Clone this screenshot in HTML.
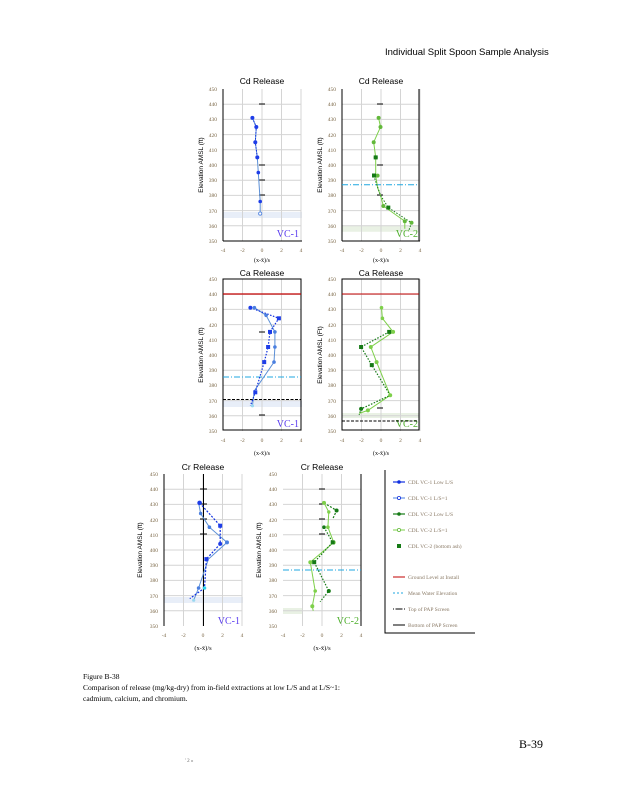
<!DOCTYPE html>
<html><head><style>
body{margin:0;background:#fff;}
svg{display:block;font-family:"Liberation Serif",serif;}
.s{font-family:"Liberation Sans",sans-serif;}
.tk{font-size:5.5px;fill:#7a6645;}
.g line{stroke:#d4d4d4;stroke-width:1;}
</style></head><body>
<svg width="618" height="800" viewBox="0 0 618 800" xmlns="http://www.w3.org/2000/svg">
<defs>
<g id="grid" class="g">
<line x1="0" y1="15.2" x2="78" y2="15.2"/><line x1="0" y1="30.4" x2="78" y2="30.4"/><line x1="0" y1="45.6" x2="78" y2="45.6"/><line x1="0" y1="60.8" x2="78" y2="60.8"/><line x1="0" y1="76" x2="78" y2="76"/><line x1="0" y1="91.2" x2="78" y2="91.2"/><line x1="0" y1="106.4" x2="78" y2="106.4"/><line x1="0" y1="121.6" x2="78" y2="121.6"/><line x1="0" y1="136.8" x2="78" y2="136.8"/>
<line x1="19.5" y1="0" x2="19.5" y2="152"/><line x1="39" y1="0" x2="39" y2="152"/><line x1="58.5" y1="0" x2="58.5" y2="152"/><line x1="78" y1="0" x2="78" y2="152"/>
</g>
</defs>

<text x="385" y="55" class="s" font-size="9.5">Individual Split Spoon Sample Analysis</text>

<!-- ===== Plot frames ===== -->
<!-- TL -->
<g transform="translate(223,89)">
<rect x="0" y="123" width="79" height="6" fill="#e8eef8"/>
<use href="#grid"/>
<line x1="0" y1="0" x2="0" y2="152" stroke="#000"/><line x1="0" y1="152" x2="79" y2="152" stroke="#000"/>
<g class="tk" text-anchor="end"><text x="-6" y="2">450</text><text x="-6" y="17">440</text><text x="-6" y="32">430</text><text x="-6" y="48">420</text><text x="-6" y="63">410</text><text x="-6" y="78">400</text><text x="-6" y="93">390</text><text x="-6" y="108">380</text><text x="-6" y="124">370</text><text x="-6" y="139">360</text><text x="-6" y="154">350</text></g>
<g class="tk" text-anchor="middle"><text x="0" y="163">-4</text><text x="19.5" y="163">-2</text><text x="39" y="163">0</text><text x="58.5" y="163">2</text><text x="78" y="163">4</text></g>
<text x="39" y="-5" text-anchor="middle" class="s" font-size="8.5">Cd Release</text>
<text x="39" y="173" text-anchor="middle" font-size="6">(x-x̄)/s</text>
<text transform="translate(-20,76) rotate(-90)" text-anchor="middle" class="s" font-size="6.5">Elevation AMSL (ft)</text>
<text x="76" y="148" text-anchor="end" font-size="10" fill="#5a3cf0">VC-1</text>
</g>
<!-- TR -->
<g transform="translate(342,89)">
<rect x="0" y="136.8" width="77" height="6" fill="#e9f1e4"/>
<use href="#grid"/>
<line x1="0" y1="0" x2="0" y2="152" stroke="#000"/><line x1="0" y1="152" x2="78" y2="152" stroke="#000"/><line x1="77" y1="0" x2="77" y2="152" stroke="#000"/>
<g class="tk" text-anchor="end"><text x="-6" y="2">450</text><text x="-6" y="17">440</text><text x="-6" y="32">430</text><text x="-6" y="48">420</text><text x="-6" y="63">410</text><text x="-6" y="78">400</text><text x="-6" y="93">390</text><text x="-6" y="108">380</text><text x="-6" y="124">370</text><text x="-6" y="139">360</text><text x="-6" y="154">350</text></g>
<g class="tk" text-anchor="middle"><text x="0" y="163">-4</text><text x="19.5" y="163">-2</text><text x="39" y="163">0</text><text x="58.5" y="163">2</text><text x="78" y="163">4</text></g>
<text x="39" y="-5" text-anchor="middle" class="s" font-size="8.5">Cd Release</text>
<text x="39" y="173" text-anchor="middle" font-size="6">(x-x̄)/s</text>
<text transform="translate(-20,76) rotate(-90)" text-anchor="middle" class="s" font-size="6.5">Elevation AMSL (ft)</text>
<text x="76" y="148" text-anchor="end" font-size="10" fill="#4caf2a">VC-2</text>
</g>
<!-- ML -->
<g transform="translate(223,279)">
<rect x="0" y="122" width="79" height="6" fill="#e8eef8"/>
<use href="#grid"/>
<rect x="0" y="0" width="78" height="151" fill="none" stroke="#000"/>
<g class="tk" text-anchor="end"><text x="-6" y="2">450</text><text x="-6" y="17">440</text><text x="-6" y="32">430</text><text x="-6" y="48">420</text><text x="-6" y="63">410</text><text x="-6" y="78">400</text><text x="-6" y="93">390</text><text x="-6" y="108">380</text><text x="-6" y="124">370</text><text x="-6" y="139">360</text><text x="-6" y="154">350</text></g>
<g class="tk" text-anchor="middle"><text x="0" y="163">-4</text><text x="19.5" y="163">-2</text><text x="39" y="163">0</text><text x="58.5" y="163">2</text><text x="78" y="163">4</text></g>
<text x="39" y="-3" text-anchor="middle" class="s" font-size="8.5">Ca Release</text>
<text x="39" y="176" text-anchor="middle" font-size="6">(x-x̄)/s</text>
<text transform="translate(-20,76) rotate(-90)" text-anchor="middle" class="s" font-size="6.5">Elevation AMSL (ft)</text>
<text x="76" y="148" text-anchor="end" font-size="10" fill="#5a3cf0">VC-1</text>
</g>
<!-- MR -->
<g transform="translate(342,279)">
<rect x="0" y="134" width="77" height="5" fill="#e9f1e4"/>
<use href="#grid"/>
<rect x="0" y="0" width="77" height="151" fill="none" stroke="#000"/>
<g class="tk" text-anchor="end"><text x="-6" y="2">450</text><text x="-6" y="17">440</text><text x="-6" y="32">430</text><text x="-6" y="48">420</text><text x="-6" y="63">410</text><text x="-6" y="78">400</text><text x="-6" y="93">390</text><text x="-6" y="108">380</text><text x="-6" y="124">370</text><text x="-6" y="139">360</text><text x="-6" y="154">350</text></g>
<g class="tk" text-anchor="middle"><text x="0" y="163">-4</text><text x="19.5" y="163">-2</text><text x="39" y="163">0</text><text x="58.5" y="163">2</text><text x="78" y="163">4</text></g>
<text x="39" y="-3" text-anchor="middle" class="s" font-size="8.5">Ca Release</text>
<text x="39" y="176" text-anchor="middle" font-size="6">(x-x̄)/s</text>
<text transform="translate(-20,76) rotate(-90)" text-anchor="middle" class="s" font-size="6.5">Elevation AMSL (Ft)</text>
<text x="76" y="148" text-anchor="end" font-size="10" fill="#4caf2a">VC-2</text>
</g>
<!-- BL -->
<g transform="translate(164,474)">
<rect x="0" y="123" width="79" height="6" fill="#e8eef8"/>
<use href="#grid"/>
<line x1="0" y1="0" x2="0" y2="152" stroke="#000"/><line x1="39.5" y1="0" x2="39.5" y2="152" stroke="#000"/>
<g class="tk" text-anchor="end"><text x="-6" y="2">450</text><text x="-6" y="17">440</text><text x="-6" y="32">430</text><text x="-6" y="48">420</text><text x="-6" y="63">410</text><text x="-6" y="78">400</text><text x="-6" y="93">390</text><text x="-6" y="108">380</text><text x="-6" y="124">370</text><text x="-6" y="139">360</text><text x="-6" y="154">350</text></g>
<g class="tk" text-anchor="middle"><text x="0" y="163">-4</text><text x="19.5" y="163">-2</text><text x="39" y="163">0</text><text x="58.5" y="163">2</text><text x="78" y="163">4</text></g>
<text x="39" y="-4" text-anchor="middle" class="s" font-size="8.5">Cr Release</text>
<text x="39" y="176" text-anchor="middle" font-size="6.5">(x-x̄)/s</text>
<text transform="translate(-22,76) rotate(-90)" text-anchor="middle" class="s" font-size="6.5">Elevation AMSL (ft)</text>
<text x="76" y="150" text-anchor="end" font-size="10" fill="#5a3cf0">VC-1</text>
</g>
<!-- BR -->
<g transform="translate(283,474)">
<rect x="0" y="134" width="20" height="6" fill="#e9f1e4"/>
<use href="#grid"/>
<line x1="78" y1="0" x2="78" y2="152" stroke="#000"/>
<g class="tk" text-anchor="end"><text x="-6" y="2">450</text><text x="-6" y="17">440</text><text x="-6" y="32">430</text><text x="-6" y="48">420</text><text x="-6" y="63">410</text><text x="-6" y="78">400</text><text x="-6" y="93">390</text><text x="-6" y="108">380</text><text x="-6" y="124">370</text><text x="-6" y="139">360</text><text x="-6" y="154">350</text></g>
<g class="tk" text-anchor="middle"><text x="0" y="163">-4</text><text x="19.5" y="163">-2</text><text x="39" y="163">0</text><text x="58.5" y="163">2</text><text x="78" y="163">4</text></g>
<text x="39" y="-4" text-anchor="middle" class="s" font-size="8.5">Cr Release</text>
<text x="39" y="176" text-anchor="middle" font-size="6.5">(x-x̄)/s</text>
<text transform="translate(-22,76) rotate(-90)" text-anchor="middle" class="s" font-size="6.5">Elevation AMSL (ft)</text>
<text x="76" y="150" text-anchor="end" font-size="10" fill="#4caf2a">VC-2</text>
</g>

<!-- reference lines -->
<line x1="342" y1="184.8" x2="419" y2="184.8" stroke="#1fa7e0" stroke-dasharray="6,2,1,2"/>
<line x1="223" y1="294" x2="301" y2="294" stroke="#c00000" stroke-width="1.2"/>
<line x1="342" y1="294" x2="419" y2="294" stroke="#c00000" stroke-width="1"/>
<line x1="223" y1="377" x2="301" y2="377" stroke="#1fa7e0" stroke-dasharray="6,2,1,2"/>
<line x1="223" y1="399.5" x2="301" y2="399.5" stroke="#000" stroke-dasharray="3,1.5"/>
<line x1="342" y1="421" x2="419" y2="421" stroke="#000" stroke-dasharray="3,1.5"/>
<line x1="283" y1="570" x2="361" y2="570" stroke="#1fa7e0" stroke-dasharray="6,2,1,2"/>
<!-- small black ticks (PAP) -->
<g stroke="#000" stroke-width="1">
<line x1="259" y1="104" x2="265" y2="104"/><line x1="259" y1="165" x2="265" y2="165"/><line x1="259" y1="180" x2="265" y2="180"/><line x1="259" y1="195" x2="265" y2="195"/>
<line x1="377" y1="104" x2="383" y2="104"/><line x1="377" y1="165" x2="383" y2="165"/><line x1="377" y1="195" x2="383" y2="195"/>
<line x1="259" y1="332" x2="265" y2="332"/><line x1="259" y1="415" x2="265" y2="415"/>
<line x1="377" y1="408" x2="383" y2="408"/>
<line x1="200" y1="489" x2="207" y2="489"/><line x1="200" y1="504" x2="207" y2="504"/><line x1="200" y1="519" x2="207" y2="519"/><line x1="200" y1="534" x2="207" y2="534"/>
<line x1="319" y1="489" x2="325" y2="489"/><line x1="319" y1="504" x2="325" y2="504"/><line x1="319" y1="519" x2="325" y2="519"/><line x1="319" y1="534" x2="325" y2="534"/>
</g>

<!-- Cd VC-1 -->
<polyline points="252.4,117.9 256.3,127 255.3,142.2 257.3,157.4 258.3,172.6 260.2,201.5 260.2,213.6" fill="none" stroke="#5b8fd6" stroke-width="1"/>
<polyline points="252.4,117.9 256.3,127 255.3,142.2 257.3,157.4" fill="none" stroke="#1030e0" stroke-width="1" stroke-dasharray="1.5,1.5"/>
<g fill="#1e3de8"><circle cx="252.4" cy="117.9" r="2"/><circle cx="256.3" cy="127" r="2"/><circle cx="255.3" cy="142.2" r="2"/><circle cx="257.3" cy="157.4" r="2"/><circle cx="258.3" cy="172.6" r="1.8"/><circle cx="260.2" cy="201.5" r="1.8"/></g>
<circle cx="260.2" cy="213.6" r="1.6" fill="#fff" stroke="#4a7fe0" stroke-width="0.8"/>

<!-- Cd VC-2 -->
<polyline points="378.6,117.9 380.5,127 373.7,142.2 375.7,157.4 375.7,175.6 377.6,187.8 380.5,195.4 383.4,206 404.8,221.2 404.8,228.8" fill="none" stroke="#7ed04a" stroke-width="1"/>
<polyline points="373.7,175.6 380.5,195.4 388.3,207.6 411.5,222.8 409,230" fill="none" stroke="#157a15" stroke-width="1" stroke-dasharray="1.5,1.5"/>
<g fill="#62b83a"><circle cx="378.6" cy="117.9" r="2"/><circle cx="380.5" cy="127" r="2"/><circle cx="373.7" cy="142.2" r="2"/><circle cx="375.7" cy="157.4" r="2"/><circle cx="377.6" cy="175.6" r="2"/><circle cx="383.4" cy="206" r="2"/><circle cx="404.8" cy="221.2" r="2"/><circle cx="411.5" cy="222.8" r="2"/></g>
<g fill="#157a15"><rect x="372" y="173.5" width="4" height="4"/><rect x="386.3" y="205.6" width="4" height="4"/><rect x="373.7" y="155.4" width="4" height="4"/></g>

<!-- Ca VC-1 -->
<polyline points="254.4,307.7 266.1,315.3 274.9,331.9 274.9,347 274,362.1 254.4,390.7 252.4,405.8" fill="none" stroke="#5b8fd6" stroke-width="1"/>
<polyline points="250.4,307.7 278.9,318.3 270,331.9 268.1,347 264.2,362.1 255.3,392.3 250.4,405.8" fill="none" stroke="#1030e0" stroke-width="1.2" stroke-dasharray="1.5,1.5"/>
<g fill="#1e3de8"><circle cx="250.4" cy="307.7" r="2"/><rect x="276.9" y="316.3" width="4" height="4"/><rect x="268" y="329.9" width="4" height="4"/><rect x="266.1" y="345" width="4" height="4"/><rect x="262.2" y="360.1" width="4" height="4"/><rect x="253.3" y="390.3" width="4" height="4"/></g>
<g fill="#4a7fe0"><circle cx="254.4" cy="307.7" r="1.8"/><circle cx="266.1" cy="315.3" r="1.8"/><circle cx="274.9" cy="331.9" r="1.8"/><circle cx="274.9" cy="347" r="1.8"/><circle cx="274" cy="362.1" r="1.8"/></g>
<circle cx="252.4" cy="405.8" r="1.6" fill="#9ad8f0"/>

<!-- Ca VC-2 -->
<polyline points="381.5,307.7 382.4,318.3 393.1,331.9 370.8,347 376.6,362.1 390.2,395.3 367.9,410.4 359.2,413.4" fill="none" stroke="#7ed04a" stroke-width="1"/>
<polyline points="389.2,331.9 361.1,347 371.8,365.1 390.2,395.3 361.1,408.9 359.2,414.9" fill="none" stroke="#157a15" stroke-width="1.2" stroke-dasharray="1.5,1.5"/>
<g fill="#7ed04a"><circle cx="381.5" cy="307.7" r="1.8"/><circle cx="382.4" cy="318.3" r="1.8"/><circle cx="393.1" cy="331.9" r="2"/><circle cx="370.8" cy="347" r="2"/><circle cx="376.6" cy="362.1" r="2"/><circle cx="390.2" cy="395.3" r="2"/><circle cx="367.9" cy="410.4" r="2"/></g>
<g fill="#157a15"><rect x="387.2" y="329.9" width="4" height="4"/><rect x="359.1" y="345" width="4" height="4"/><rect x="369.8" y="363.1" width="4" height="4"/><circle cx="361.1" cy="408.9" r="2"/></g>

<!-- Cr VC-1 -->
<polyline points="198.6,502.9 200.6,513.5 209.4,527.2 227,542.4 208.4,559.1 198.6,588 193.7,600.2" fill="none" stroke="#5b8fd6" stroke-width="1"/>
<polyline points="199.6,502.9 220.2,525.7 220.2,543.9 206.4,559.1 204.5,588 189.8,598.6" fill="none" stroke="#1030e0" stroke-width="1.2" stroke-dasharray="2,1.5"/>
<g fill="#1e3de8"><circle cx="199.6" cy="502.9" r="2.3"/><rect x="218.2" y="523.7" width="4" height="4"/><circle cx="220.2" cy="543.9" r="2"/><rect x="204.4" y="557.1" width="4" height="4"/></g>
<g fill="#4a7fe0"><circle cx="200.6" cy="513.5" r="1.7"/><circle cx="209.4" cy="527.2" r="1.8"/><circle cx="227" cy="542.4" r="2"/><circle cx="198.6" cy="588" r="1.8"/></g>
<circle cx="204.5" cy="588" r="1.8" fill="#2fd0f0"/><circle cx="193.7" cy="600.2" r="1.6" fill="#9ad8f0"/>

<!-- Cr VC-2 -->
<polyline points="324,502.9 328.8,512 327.9,527.2 333.7,542.4 310.3,562.2 315.2,591 312.3,606.2 313.2,610.8" fill="none" stroke="#7ed04a" stroke-width="1"/>
<polyline points="324,502.9 336.6,510.5 332.7,519" fill="none" stroke="#157a15" stroke-width="1.2" stroke-dasharray="2,1.5"/>
<polyline points="324,527.2 332.7,542.4 314.2,562.2 328.8,591 320.1,601.7" fill="none" stroke="#157a15" stroke-width="1.2" stroke-dasharray="1.5,1.5"/>
<g fill="#7ed04a"><circle cx="324" cy="502.9" r="2"/><circle cx="328.8" cy="512" r="1.7"/><circle cx="327.9" cy="527.2" r="1.8"/><circle cx="333.7" cy="542.4" r="2"/><circle cx="310.3" cy="562.2" r="2"/><circle cx="315.2" cy="591" r="1.8"/><circle cx="312.3" cy="606.2" r="2"/></g>
<g fill="#157a15"><circle cx="336.6" cy="510.5" r="2"/><circle cx="324" cy="527.2" r="1.8"/><rect x="330.7" y="540.4" width="4" height="4"/><rect x="312.2" y="560.2" width="4" height="4"/><circle cx="328.8" cy="591" r="2"/></g>

<!-- Legend -->
<path d="M385,470 V633 H475" fill="none" stroke="#000" stroke-width="1"/>
<g font-size="5.5" fill="#8a7a66">
<line x1="393" y1="482" x2="405" y2="482" stroke="#1030e0" stroke-width="1.2"/><circle cx="399" cy="482" r="1.8" fill="#1030e0"/><text x="408" y="484">CDL VC-1 Low L/S</text>
<line x1="393" y1="498" x2="405" y2="498" stroke="#4a7fe0"/><circle cx="399" cy="498" r="1.6" fill="#fff" stroke="#1030e0" stroke-width="0.8"/><text x="408" y="500">CDL VC-1 L/S=1</text>
<line x1="393" y1="514" x2="405" y2="514" stroke="#157a15" stroke-width="1.2"/><circle cx="399" cy="514" r="1.8" fill="#157a15"/><text x="408" y="516">CDL VC-2 Low L/S</text>
<line x1="393" y1="530" x2="405" y2="530" stroke="#7ed04a"/><circle cx="399" cy="530" r="1.6" fill="#fff" stroke="#62b83a" stroke-width="0.8"/><text x="408" y="532">CDL VC-2 L/S=1</text>
<rect x="397" y="544" width="4" height="4" fill="#157a15"/><text x="408" y="548">CDL VC-2 (bottom ash)</text>
<line x1="393" y1="577" x2="405" y2="577" stroke="#c00000"/><text x="408" y="579">Ground Level at Install</text>
<line x1="393" y1="593" x2="405" y2="593" stroke="#1fa7e0" stroke-dasharray="2,2"/><text x="408" y="595">Mean Water Elevation</text>
<line x1="393" y1="609" x2="405" y2="609" stroke="#000" stroke-dasharray="1,1.5,6,0"/><text x="408" y="611">Top of PAP Screen</text>
<line x1="393" y1="625" x2="405" y2="625" stroke="#000"/><text x="408" y="627">Bottom of PAP Screen</text>
</g>

<!-- caption -->
<g font-size="7.5">
<text x="83" y="679">Figure B-38</text>
<text x="83" y="690">Comparison of release (mg/kg-dry) from in-field extractions at low L/S and at L/S~1:</text>
<text x="83" y="701">cadmium, calcium, and chromium.</text>
</g>
<text x="519" y="748" font-size="12">B-39</text>
<text x="185" y="762" font-size="5" fill="#666">'  2  »</text>
</svg>
</body></html>
